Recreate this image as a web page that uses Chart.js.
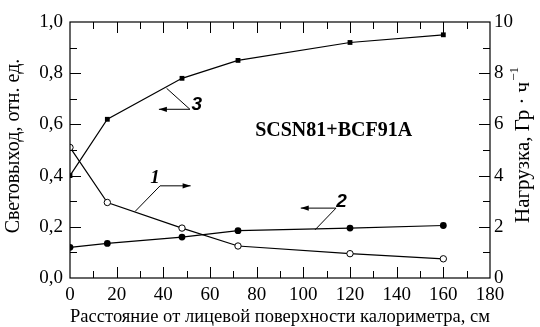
<!DOCTYPE html>
<html><head><meta charset="utf-8">
<script src="https://cdn.jsdelivr.net/npm/chart.js@4/dist/chart.umd.min.js"></script>
<style>html,body{margin:0;padding:0;background:#fff}canvas{display:block}</style>
</head><body>
<canvas id="c" width="540" height="327"></canvas>
<script>
// ---- data ----
const distances   = [0, 16, 48, 72, 120, 160];             // cm
const lightYield3 = [0.40, 0.62, 0.78, 0.85, 0.92, 0.95];  // curve 3 (left axis)
const lightYield2 = [0.12, 0.135, 0.16, 0.185, 0.195, 0.205]; // curve 2 (left axis)
const dose1       = [5.1, 2.95, 1.95, 1.25, 0.95, 0.75];   // curve 1 (right axis)
const leftTickLabels  = ['0,0', '0,2', '0,4', '0,6', '0,8', '1,0'];
const rightTickLabels = ['0', '2', '4', '6', '8', '10'];
const xTickLabels     = ['0', '20', '40', '60', '80', '100', '120', '140', '160', '180'];

const xTitle = 'Расстояние от лицевой поверхности калориметра, см';
const leftTitle = 'Световыход, отн. ед.';
const rightTitle = 'Нагрузка, Гр · ч';
const rightTitleSup = '−1';
const sampleLabel = 'SCSN81+BCF91A';

const SERIF = "'Liberation Serif', 'Times New Roman', serif";
Chart.defaults.font.family = SERIF;
Chart.defaults.font.size = 19;
Chart.defaults.color = '#000';

function pts(xs, ys) { return xs.map((x, i) => ({x: x, y: ys[i]})); }

const decorPlugin = {
  id: 'decor',
  afterDatasetsDraw(chart) {
    const ctx = chart.ctx;
    const a = chart.chartArea;
    const sx = chart.scales.x, sy = chart.scales.y, sy2 = chart.scales.y2;
    ctx.save();
    ctx.strokeStyle = '#000';
    ctx.fillStyle = '#000';
    ctx.lineWidth = 1.2;
    ctx.strokeRect(a.left, a.top, a.right - a.left, a.bottom - a.top);
    ctx.lineWidth = 1;
    ctx.beginPath();
    for (let v = 10; v < 180; v += 10) {
      const p = Math.round(sx.getPixelForValue(v)) + 0.5;
      const L = (v % 20 === 0) ? 11 : 7;
      ctx.moveTo(p, a.bottom); ctx.lineTo(p, a.bottom - L);
      ctx.moveTo(p, a.top); ctx.lineTo(p, a.top + L);
    }
    for (let k = 1; k < 10; k++) {
      const p = Math.round(sy.getPixelForValue(k / 10)) + 0.5;
      const L = (k % 2 === 0) ? 11 : 7;
      ctx.moveTo(a.left, p); ctx.lineTo(a.left + L, p);
      const p2 = Math.round(sy2.getPixelForValue(k)) + 0.5;
      ctx.moveTo(a.right, p2); ctx.lineTo(a.right - L, p2);
    }
    ctx.stroke();

    function X(v) { return sx.getPixelForValue(v); }
    function Y(v) { return sy.getPixelForValue(v); }
    function arrow(x0, y0, x1, y1) {
      ctx.beginPath(); ctx.moveTo(x0, y0); ctx.lineTo(x1, y1); ctx.stroke();
      const ang = Math.atan2(y1 - y0, x1 - x0), L = 8, W = 2.6;
      ctx.beginPath();
      ctx.moveTo(x1, y1);
      ctx.lineTo(x1 - L * Math.cos(ang) + W * Math.sin(ang), y1 - L * Math.sin(ang) - W * Math.cos(ang));
      ctx.lineTo(x1 - L * Math.cos(ang) - W * Math.sin(ang), y1 - L * Math.sin(ang) + W * Math.cos(ang));
      ctx.closePath(); ctx.fill();
    }
    ctx.lineWidth = 1;
    ctx.beginPath(); ctx.moveTo(X(41.4), Y(0.741)); ctx.lineTo(X(51.4), Y(0.659)); ctx.stroke();
    arrow(X(51.4), Y(0.659), X(38.1), Y(0.659));
    ctx.beginPath(); ctx.moveTo(X(27.9), Y(0.26)); ctx.lineTo(X(38.6), Y(0.36)); ctx.stroke();
    arrow(X(38.6), Y(0.36), X(51.7), Y(0.36));
    ctx.beginPath(); ctx.moveTo(X(105), Y(0.188)); ctx.lineTo(X(114), Y(0.273)); ctx.stroke();
    arrow(X(114), Y(0.273), X(98.9), Y(0.273));

    ctx.textAlign = 'center';
    ctx.textBaseline = 'middle';
    ctx.font = 'italic bold 19px ' + SERIF;
    ctx.fillText('1', X(36.4), Y(0.391));
    ctx.font = "italic bold 19px 'Liberation Sans', Arial, sans-serif";
    ctx.fillText('3', X(54.3), Y(0.676));
    ctx.fillText('2', X(116.4), Y(0.299));
    ctx.font = 'bold 20px ' + SERIF;
    ctx.fillText(sampleLabel, X(113), Y(0.575));

    ctx.font = '20px ' + SERIF;
    ctx.save();
    ctx.translate(14, 146);
    ctx.rotate(-Math.PI / 2);
    ctx.fillText(leftTitle, 0, 0);
    ctx.restore();

    ctx.font = '21px ' + SERIF;
    ctx.save();
    ctx.translate(523, 145);
    ctx.rotate(-Math.PI / 2);
    const w1 = ctx.measureText(rightTitle).width;
    ctx.font = '13px ' + SERIF;
    const w2 = ctx.measureText(rightTitleSup).width;
    const start = -(w1 + w2 + 1) / 2;
    ctx.textAlign = 'left';
    ctx.font = '21px ' + SERIF;
    ctx.fillText(rightTitle, start, 0);
    ctx.font = '13px ' + SERIF;
    ctx.fillText(rightTitleSup, start + w1 + 1, -8);
    ctx.restore();

    ctx.restore();
  }
};

const tickFont = {family: SERIF, size: 19};

new Chart(document.getElementById('c'), {
  type: 'line',
  data: {
    datasets: [
      {
        label: '3', data: pts(distances, lightYield3), yAxisID: 'y',
        borderColor: '#000', backgroundColor: '#000', borderWidth: 1.2,
        pointStyle: 'rect', pointRadius: 3.4, pointBorderWidth: 0, tension: 0
      },
      {
        label: '2', data: pts(distances, lightYield2), yAxisID: 'y',
        borderColor: '#000', backgroundColor: '#000', borderWidth: 1.2,
        pointStyle: 'circle', pointRadius: 3.4, pointBorderWidth: 0, tension: 0
      },
      {
        label: '1', data: pts(distances, dose1), yAxisID: 'y2',
        borderColor: '#000', backgroundColor: '#fff', borderWidth: 1.2,
        pointStyle: 'circle', pointRadius: 3.2, pointBorderWidth: 1, pointBackgroundColor: '#fff', tension: 0
      }
    ]
  },
  options: {
    responsive: false,
    animation: false,
    devicePixelRatio: 1,
    layout: {padding: {top: 22, left: 0, right: 0, bottom: 0}},
    plugins: {legend: {display: false}, tooltip: {enabled: false}},
    scales: {
      x: {
        type: 'linear', position: 'bottom', min: 0, max: 180,
        grid: {display: false, drawTicks: false},
        border: {display: false},
        ticks: {
          stepSize: 20, color: '#000', font: tickFont, padding: 6, maxRotation: 0,
          callback: (v) => xTickLabels[Math.round(v / 20)]
        },
        title: {display: true, text: xTitle, color: '#000', font: {family: SERIF, size: 19.5, lineHeight: 1}, padding: 0},
        afterFit: (s) => { s.height = 49; }
      },
      y: {
        type: 'linear', position: 'left', min: 0, max: 1,
        grid: {display: false, drawTicks: false},
        border: {display: false},
        ticks: {
          stepSize: 0.2, color: '#000', font: tickFont, padding: 7,
          callback: (v) => leftTickLabels[Math.round(v / 0.2)]
        },
        afterFit: (s) => { s.width = 70; }
      },
      y2: {
        type: 'linear', position: 'right', min: 0, max: 10,
        grid: {display: false, drawTicks: false},
        border: {display: false},
        ticks: {
          stepSize: 2, color: '#000', font: tickFont, padding: 4,
          callback: (v) => rightTickLabels[Math.round(v / 2)]
        },
        afterFit: (s) => { s.width = 50; }
      }
    }
  },
  plugins: [decorPlugin]
});
</script>
</body></html>
